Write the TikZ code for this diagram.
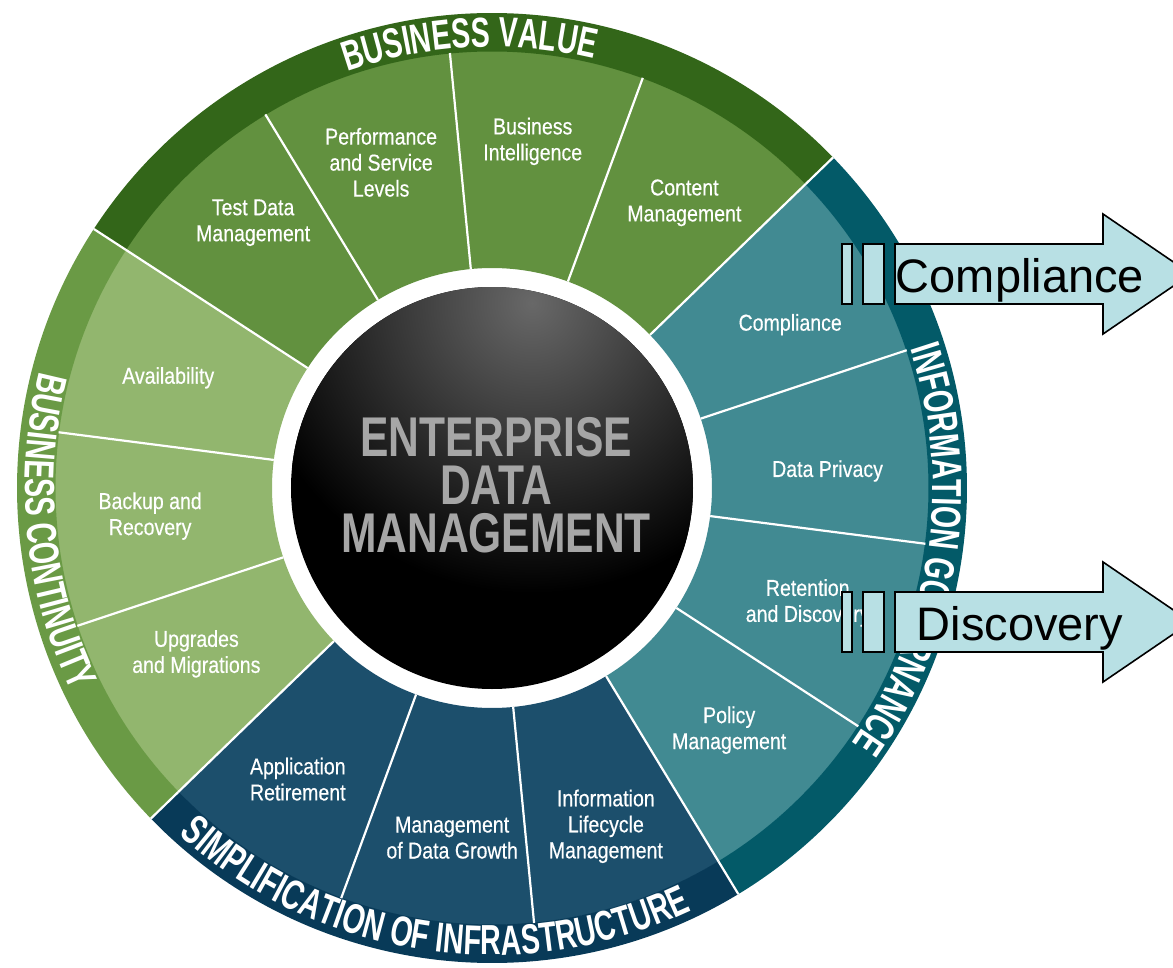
\documentclass[tikz,border=0pt]{standalone}
\usepackage{fontspec}
\setmainfont{Liberation Sans}
\newfontfamily\segfont[FakeStretch=0.85, FakeBold=0.4]{Liberation Sans}
\newfontfamily\bandfont[FakeStretch=0.68]{Liberation Sans}
\newfontfamily\hubfont[FakeStretch=0.76]{Liberation Sans}
\usepackage{tikz}
\usetikzlibrary{decorations.text}

\definecolor{bvband}{HTML}{336619}
\definecolor{bvseg}{HTML}{62913F}
\definecolor{bcband}{HTML}{6A9A45}
\definecolor{bcseg}{HTML}{92B66E}
\definecolor{siband}{HTML}{083A58}
\definecolor{siseg}{HTML}{1C4F6C}
\definecolor{igband}{HTML}{035A68}
\definecolor{igseg}{HTML}{418A92}
\definecolor{hubhi}{HTML}{686868}
\definecolor{hubtext}{HTML}{A6A6A6}
\definecolor{arrowfill}{HTML}{B8E0E4}

\newcommand\bandtext{\bandfont\bfseries\fontsize{42}{42}\selectfont}

\begin{document}
\begin{tikzpicture}[x=1pt, y=1pt,
        seg label/.style={text=white, align=center, inner sep=0,
            font=\segfont\fontsize{23}{26}\selectfont},
        separator/.style={white, line width=2.2},
        band label/.style={decorate, decoration={text along path,
            text align=center, text color=white, text={|\bandtext|#1}}},
        arrow body/.style={fill=arrowfill, draw=black, line width=1.6},
        arrow label/.style={anchor=base, inner sep=0,
            font=\fontsize{47}{47}\selectfont},
        stripedarrow/.pic={
            \draw[arrow body] (-53,-30) rectangle (-43,30);
            \draw[arrow body] (-32,-30) rectangle (-11,30);
            \draw[arrow body] (0,-30) -- (208,-30) -- (208,-60) -- (296,0)
                -- (208,60) -- (208,30) -- (0,30) -- cycle;
        },
        ]

    \useasboundingbox (-492,-479) rectangle (681,488);

    \def\Rin{220}
    \def\Rseg{437}
    \def\Rout{475}
    \def\Rhub{201}
    \def\Start{44.1}
    \def\Wedge{25.714}

    % fourteen wedges, then the four outer bands
    \foreach \k/\col in {0/bvseg,1/bvseg,2/bvseg,3/bvseg,4/bcseg,5/bcseg,6/bcseg,
            7/siseg,8/siseg,9/siseg,10/igseg,11/igseg,12/igseg,13/igseg}{
        \pgfmathsetmacro\a{\Start+\k*\Wedge}
        \pgfmathsetmacro\b{\a+\Wedge}
        \fill[\col] (\a:\Rin) arc[start angle=\a, end angle=\b, radius=\Rin]
            -- (\b:\Rseg) arc[start angle=\b, end angle=\a, radius=\Rseg] -- cycle;
    }
    \foreach \a/\b/\col in {44.1/146.96/bvband, 146.96/224.1/bcband,
            224.1/301.2/siband, 301.2/404.1/igband}{
        \fill[\col] (\a:\Rseg-0.5) arc[start angle=\a, end angle=\b, radius=\Rseg-0.5]
            -- (\b:\Rout) arc[start angle=\b, end angle=\a, radius=\Rout] -- cycle;
    }

    \foreach \k in {0,...,13}
        \draw[separator] ({\Start+\k*\Wedge}:\Rin) -- ({\Start+\k*\Wedge}:\Rseg);
    \foreach \k in {0,4,7,10}
        \draw[separator] ({\Start+\k*\Wedge}:\Rseg) -- ({\Start+\k*\Wedge}:\Rout);

    % band titles
    \path[band label=BUSINESS VALUE] (142.9:441) arc[start angle=142.9, end angle=42.9, radius=441];
    \path[band label=INFORMATION GOVERNANCE] (41.5:441) arc[start angle=41.5, end angle=-58.5, radius=441];
    \path[band label=SIMPLIFICATION OF INFRASTRUCTURE] (221.6:467) arc[start angle=221.6, end angle=301.6, radius=467];
    \path[band label=BUSINESS CONTINUITY] (145.7:467) arc[start angle=145.7, end angle=225.7, radius=467];

    % hub
    \fill[black] (0,0) circle (\Rhub);
    \begin{scope}
        \clip (0,0) circle (\Rhub);
        \shade[inner color=hubhi, outer color=black] (40,185) circle (290);
    \end{scope}
    \node[text=hubtext, align=center, inner sep=0,
        font=\hubfont\bfseries\fontsize{56}{48}\selectfont] (hub) at (4,3)
        {ENTERPRISE\\DATA\\MANAGEMENT};

    % wedge labels
    \node[seg label] (content) at (56:344) {Content\\Management};
    \node[seg label] (intel) at (83.3:349) {Business\\Intelligence};
    \node[seg label] (perf) at (108.8:344) {Performance\\and Service\\Levels};
    \node[seg label] (testdata) at (132:357) {Test Data\\Management};
    \node[seg label] (avail) at (161.2:342) {Availability};
    \node[seg label] (backup) at (184.7:343) {Backup and\\Recovery};
    \node[seg label] (upgrades) at (209.3:339) {Upgrades\\and Migrations};
    \node[seg label] (appret) at (236.3:350) {Application\\Retirement};
    \node[seg label] (growth) at (263.5:352) {Management\\of Data Growth};
    \node[seg label] (lifecycle) at (288.6:357) {Information\\Lifecycle\\Management};
    \node[seg label] (policy) at (314.4:339) {Policy\\Management};
    \node[seg label] (retention) at (340:336) {Retention\\and Discovery};
    \node[seg label] (privacy) at (2.9:336) {Data Privacy};
    \node[seg label] (compliance) at (28.7:340) {Compliance};

    % callout arrows
    \pic at (403,214) {stripedarrow};
    \node[arrow label] (compliancetag) at (528,196) {Compliance};
    \pic at (403,-134) {stripedarrow};
    \node[arrow label] (discoverytag) at (528,-152) {Discovery};
\end{tikzpicture}
\end{document}
